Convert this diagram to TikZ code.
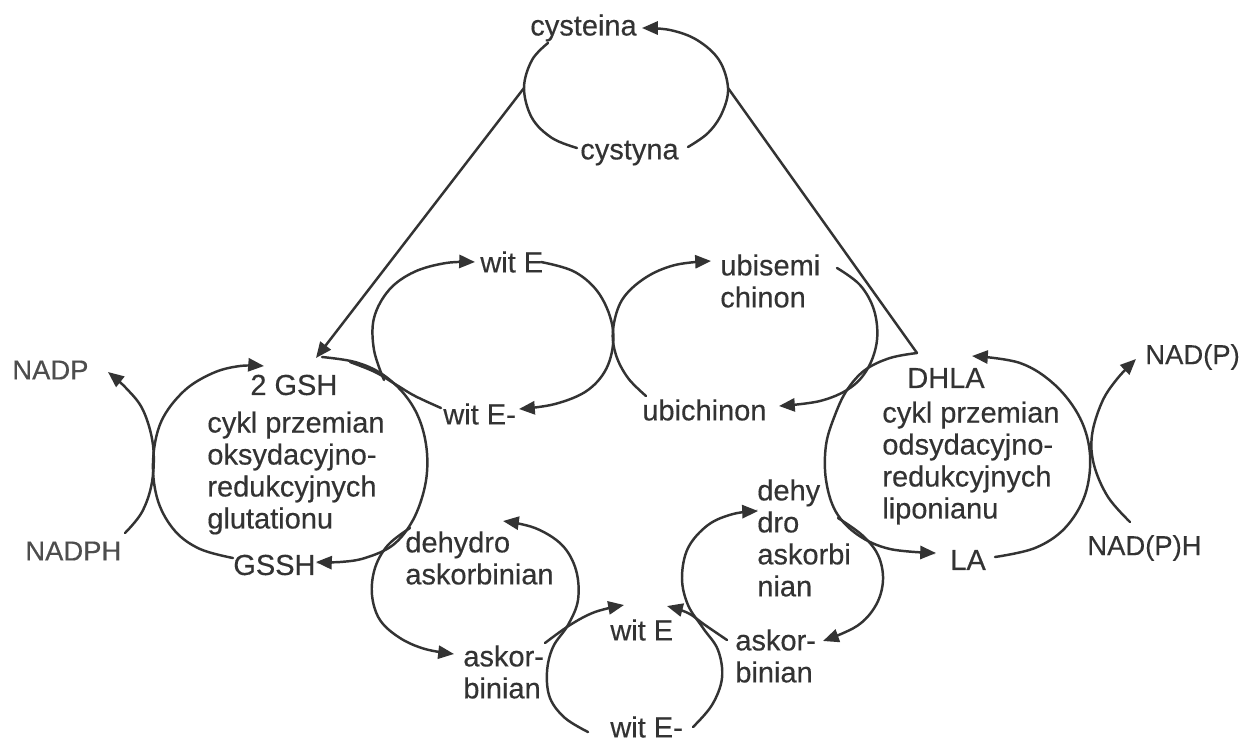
\documentclass[tikz,border=0pt]{standalone}
\usepackage{fontspec}
\setmainfont{Liberation Sans}[FakeBold=0.35]
\usetikzlibrary{arrows.meta}
\definecolor{ink}{HTML}{333333}
\definecolor{inkl}{HTML}{4d4d4d}
\begin{document}
\begin{tikzpicture}[x=0.02cm,y=-0.02cm,
  ln/.style={draw=ink,line width=1.4pt,line cap=round},
  arr/.style={-{Triangle[length=9pt,width=7.5pt]}},
  sm/.style={smooth,tension=0.6},
  lbl/.style={text=ink,inner sep=0pt,anchor=west,font=\fontsize{16.5}{18.2}\selectfont,align=left},
  lbll/.style={lbl,text=inkl,font=\fontsize{15.6}{18.2}\selectfont}]
\useasboundingbox[fill=white] (0,0) rectangle (1243,744);

% ---------- labels ----------
\node[lbl] (cys) at (530,28) {cysteina};
\node[lbl] (cyst) at (580,153) {cystyna};
\node[lbl] (witEa) at (480,262) {wit E};
\node[lbl] (ubisemi) at (720,281) {ubisemi\\chinon};
\node[lbl] (witEma) at (443,414) {wit E-};
\node[lbl] (ubichinon) at (642,410) {ubichinon};
\node[lbll] (nadp) at (12,370) {NADP};
\node[lbl] (gsh) at (250,385) {2 GSH};
\node[lbl] (glut) at (207,473) {cykl przemian\\oksydacyjno-\\redukcyjnych\\glutationu};
\node[lbll] (nadph) at (25,551) {NADPH};
\node[lbl] (gssh) at (233,565) {GSSH};
\node[lbl] (dhla) at (907,378) {DHLA};
\node[lbl] (lipon) at (882,463) {cykl przemian\\odsydacyjno-\\redukcyjnych\\liponianu};
\node[lbll,text=ink] (nadpr) at (1145,357) {NAD(P)};
\node[lbll,text=ink] (nadphr) at (1087,548) {NAD(P)H};
\node[lbl] (la) at (950,560) {LA};
\node[lbl] (dehydro) at (405,558) {dehydro\\askorbinian};
\node[lbl] (dehy) at (757,538) {dehy\\dro\\askorbi\\nian};
\node[lbl] (askorL) at (463,672) {askor-\\binian};
\node[lbl] (witEb) at (610,630) {wit E};
\node[lbl] (witEmb) at (610,727) {wit E-};
\node[lbl] (askorR) at (735,656) {askor-\\binian};

% ---------- key points ----------
\coordinate (cysL) at (524,88);
\coordinate (cysR) at (728,88);
\coordinate (gshtip) at (316,358);
\coordinate (apex) at (917,353);

% ---------- cysteine / cystine cycle ----------
\draw[ln] plot[sm] coordinates {(548,43) (532,60) (524,88) (532,118) (552,138) (577,148)};
\draw[ln,arr] plot[sm] coordinates {(688,147) (708,133) (722,113) (728,88) (719,60) (697,40) (670,30) (642,28)};
\draw[ln,arr] (cysL) -- (gshtip);
\draw[ln] (cysR) -- (apex);

% ---------- glutathione cycle ----------
\draw[ln,arr] plot[sm] coordinates {(233,558) (200,549) (175,531) (158,501) (153,462) (161,422) (184,391) (213,373) (240,366) (264,366)};
\draw[ln,arr] plot[sm] coordinates {(322,357) (355,362) (382,374) (405,395) (420,421) (427,453) (425,486) (413,520) (393,545) (365,558) (340,562) (316,562)};
\draw[ln,arr] plot[sm] coordinates {(125,533) (142,512) (152,482) (153,445) (143,410) (126,388) (108,372)};

% ---------- vitamin E cycle (upper) ----------
\draw[ln,arr] plot[sm] coordinates {(384,380) (374,350) (374,318) (389,290) (414,272) (446,263) (475,262)};
\draw[ln,arr] plot[sm] coordinates {(541,262) (575,272) (600,295) (613,330) (608,365) (588,390) (555,404) (519,409)};
\draw[ln] plot[sm] coordinates {(441,408) (415,396) (395,384) (375,372) (350,362)};

% ---------- ubiquinone cycle ----------
\draw[ln,arr] plot[sm] coordinates {(646,396) (628,378) (616,355) (613,330) (622,300) (645,278) (675,265) (711,261)};
\draw[ln,arr] plot[sm] coordinates {(837,268) (860,285) (874,310) (877,340) (868,368) (850,388) (820,401) (779,406)};

% ---------- lipoate cycle ----------
\draw[ln,arr] plot[sm] coordinates {(917,353) (890,358) (865,370) (847,390) (835,415) (826,445) (826,480) (836,512) (858,535) (890,549) (936,553)};
\draw[ln,arr] plot[sm] coordinates {(995,557) (1035,548) (1065,528) (1085,495) (1090,455) (1080,418) (1055,385) (1020,363) (972,356)};
\draw[ln,arr] plot[sm] coordinates {(1130,522) (1108,497) (1094,465) (1092,435) (1102,402) (1117,379) (1136,359)};

% ---------- dehydroascorbate cycle (left) ----------
\draw[ln,arr] plot[sm] coordinates {(410,528) (388,545) (375,568) (372,595) (380,620) (400,638) (425,649) (454,654)};
\draw[ln,arr] plot[sm] coordinates {(588,732) (565,718) (550,698) (547,672) (553,647) (568,625) (578,600) (576,570) (562,545) (535,528) (503,521)};
\draw[ln,arr] plot[sm] coordinates {(545,643) (570,625) (595,612) (624,605)};

% ---------- dehydroascorbate cycle (right) ----------
\draw[ln,arr] plot[sm] coordinates {(693,727) (712,705) (722,678) (718,650) (703,628) (688,605) (682,578) (688,548) (708,525) (733,514) (758,511)};
\draw[ln,arr] plot[sm] coordinates {(838,518) (862,535) (878,555) (883,580) (876,605) (857,626) (823,641)};
\draw[ln,arr] plot[sm] coordinates {(727,640) (705,625) (688,613) (667,606)};
\end{tikzpicture}
\end{document}
